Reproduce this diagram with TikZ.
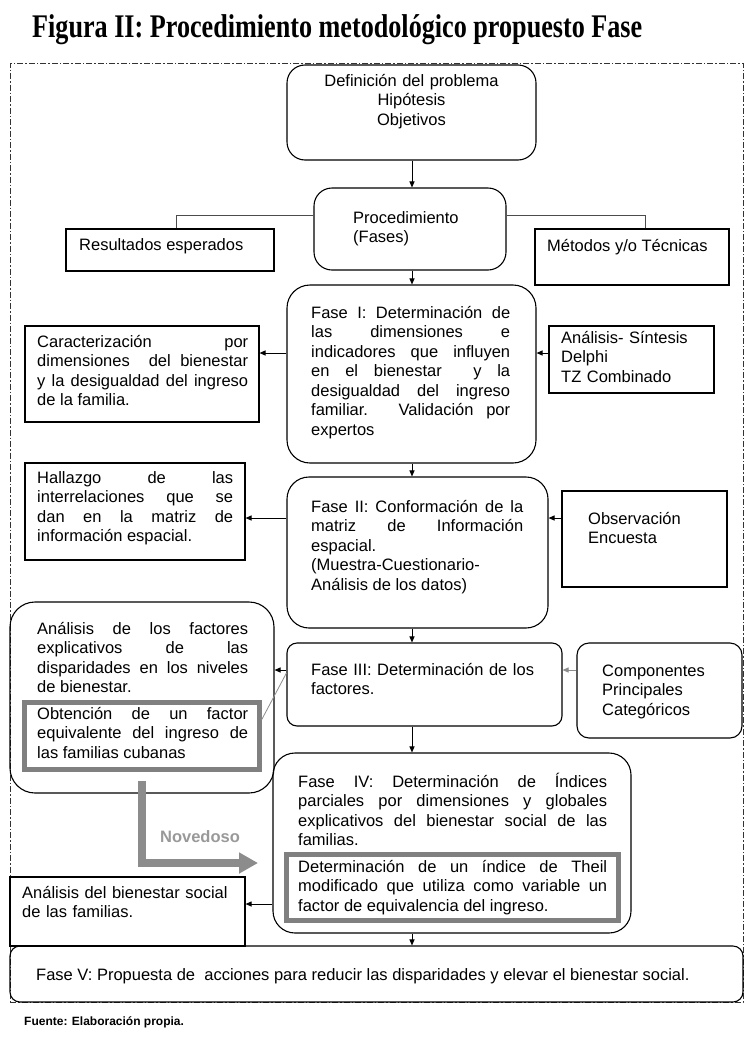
\documentclass[tikz,border=0pt]{standalone}
\usepackage{fontspec}
\setmainfont{Liberation Sans}
\newfontfamily\titlefont{Liberation Serif}
\usetikzlibrary{fit,arrows.meta}
\tolerance=10000
\hyphenpenalty=10000
\begin{document}
\begin{tikzpicture}[x=1pt,y=-1pt,
  box/.style={draw=black, line width=1.1pt, inner sep=0pt},
  rbox/.style={box, rounded corners=#1},
  gbox/.style={draw=black!50, line width=5pt, inner sep=0pt},
  txt/.style={inner sep=0pt, anchor=base west, font=\fontsize{16.5}{19.5}\selectfont},
  jtxt/.style={txt, text width=#1, align=justify},
  ltxt/.style={txt, text width=#1, align=left},
  arr/.style={draw=black, line width=1pt, -{Triangle[length=6pt,width=5pt]}},
  garr/.style={draw=black!45, line width=1pt, -{Triangle[length=6pt,width=5pt]}},
  conn/.style={draw=black!70, line width=1pt},
  novarrow/.style={draw=black!45, line width=8pt, -{Triangle[length=19pt,width=20pt]}},
  frame/.style={draw=black!80, line width=0.9pt, dash pattern=on 6pt off 2pt on 1.5pt off 2pt}
]
\useasboundingbox (0,0) rectangle (750,1039);
\fill[white] (0,0) rectangle (750,1039);

% title
\node[inner sep=0pt, anchor=base west] (title) at (32,37)
  {\resizebox{610pt}{\height}{\fontsize{33}{33}\selectfont\titlefont\bfseries Figura II: Procedimiento metodológico propuesto Fase}};

% outer frame
\node[frame, inner sep=0pt, fit={(10,63) (743,1002)}] (frm) {};

% helper coordinates
\coordinate (cx) at (412,0);
\coordinate (c215) at (0,215);
\coordinate (c353) at (0,353);
\coordinate (c518) at (0,518);
\coordinate (c670) at (0,670);
\coordinate (c673) at (0,673);
\coordinate (c720) at (0,720);
\coordinate (c904) at (0,904);

% boxes
\node[rbox=18pt, fit={(287,65) (536,160)}] (A) {};
\node[rbox=18pt, fit={(314,188) (506,270)}] (B) {};
\node[box, fit={(66,229) (274,271)}] (Res) {};
\node[box, fit={(535,229) (729,285)}] (Met) {};
\node[rbox=23pt, fit={(287,285) (536,463)}] (F1) {};
\node[box, fit={(25,326) (259,422)}] (Car) {};
\node[box, fit={(549,326) (714,393)}] (AS) {};
\node[rbox=22pt, fit={(287,477) (548,628)}] (F2) {};
\node[box, fit={(25,463) (245,560)}] (Hal) {};
\node[box, fit={(562,491) (727,587)}] (Obs) {};
\node[rbox=10pt, fit={(287,643) (562,726)}] (F3) {};
\node[rbox=12pt, fit={(577,643) (742,738)}] (Comp) {};
\node[rbox=25pt, fit={(10,602) (274,793)}] (AF) {};
\node[gbox, fit={(24,702) (259,769)}] (Obt) {};
\node[rbox=22pt, fit={(273,753) (631,933)}] (F4) {};
\node[gbox, fit={(286,854) (618,920)}] (Th) {};
\node[box, fit={(10,877) (245,946)}] (AB) {};
\node[rbox=10pt, fit={(10,946) (743,1002)}] (F5) {};

% texts
\node[txt, text width=240pt, align=center, anchor=base] (tA) at (411.5,86)
  {Definición del problema\\Hipótesis\\Objetivos};
\node[ltxt=150pt] (tB) at (353,223) {Procedimiento\\(Fases)};
\node[txt] (tRes) at (79,250) {Resultados esperados};
\node[txt] (tMet) at (547,251) {Métodos y/o Técnicas};
\node[jtxt=199pt] (tF1) at (311,318)
  {Fase I: Determinación de\linebreak las dimensiones e\linebreak indicadores que influyen\linebreak en el bienestar\ \ y la\linebreak desigualdad del ingreso\linebreak familiar. Validación por\linebreak expertos};
\node[jtxt=211pt] (tCar) at (37,347)
  {Caracterización por\linebreak dimensiones\ \ del bienestar\linebreak y la desigualdad del ingreso\linebreak de la familia.};
\node[ltxt=150pt] (tAS) at (561,343) {Análisis- Síntesis\\Delphi\\TZ Combinado};
\node[jtxt=212pt] (tF2) at (311,512)
  {Fase II: Conformación de la\linebreak matriz de Información\linebreak espacial.\\(Muestra-Cuestionario-\\Análisis de los datos)};
\node[jtxt=196pt] (tHal) at (37,483)
  {Hallazgo de las\linebreak interrelaciones que se\linebreak dan en la matriz de\linebreak información espacial.};
\node[ltxt=130pt] (tObs) at (588,524) {Observación\\Encuesta};
\node[ltxt=240pt] (tF3) at (311,675) {Fase III: Determinación de los\\factores.};
\node[ltxt=135pt] (tComp) at (602,676) {Componentes\\Principales\\Categóricos};
\node[jtxt=211pt] (tAF) at (37,634)
  {Análisis de los factores\linebreak explicativos de las\linebreak disparidades en los niveles\linebreak de bienestar.};
\node[jtxt=211pt] (tObt) at (37,719)
  {Obtención de un factor\linebreak equivalente del ingreso de\linebreak las familias cubanas};
\node[jtxt=309pt] (tF4) at (298,787)
  {Fase IV: Determinación de Índices\linebreak parciales por dimensiones y globales\linebreak explicativos del bienestar social de las\linebreak familias.};
\node[jtxt=309pt] (tTh) at (298,872)
  {Determinación de un índice de Theil\linebreak modificado que utiliza como variable un\linebreak factor de equivalencia del ingreso.};
\node[ltxt=220pt] (tAB) at (22,898) {Análisis del bienestar social\\de las familias.};
\node[txt] (tF5) at (36,980)
  {Fase V: Propuesta de\ \ acciones para reducir las disparidades y elevar el bienestar social.};
\node[inner sep=0pt, anchor=base, text=black!40, font=\fontsize{16.5}{19.5}\selectfont\bfseries] (tNov) at (200,842) {Novedoso};
\node[inner sep=0pt, anchor=base west, font=\fontsize{12}{14}\selectfont\bfseries] (src) at (24,1025) {Fuente: Elaboración propia.};

% vertical arrows
\draw[arr] (A.south -| cx) -- (B.north -| cx);
\draw[arr] (B.south -| cx) -- (F1.north -| cx);
\draw[arr] (F1.south -| cx) -- (F2.north -| cx);
\draw[arr] (F2.south -| cx) -- (F3.north -| cx);
\draw[arr] (F3.south -| cx) -- (F4.north -| cx);
\draw[arr] (F4.south -| cx) -- (F5.north -| cx);

% side connectors
\draw[conn] (B.west |- c215) -| ([xshift=6pt]Res.north);
\draw[conn] (B.east |- c215) -| ([xshift=13pt]Met.north);

\draw[arr] (F1.west |- c353) -- (Car.east |- c353);
\draw[arr] (AS.west |- c353) -- (F1.east |- c353);
\draw[arr] (F2.west |- c518) -- (Hal.east |- c518);
\draw[arr] (Obs.west |- c518) -- (F2.east |- c518);
\draw[arr] (F3.west |- c670) -- (AF.east |- c670);
\draw[garr] (Comp.west |- c670) -- (F3.east |- c670);
\draw[draw=black!45, line width=0.8pt] (F3.west |- c673) -- (Obt.east |- c720);
\draw[arr] (F4.west |- c904) -- (AB.east |- c904);

% novedoso arrow
\coordinate (nv1) at (142,781);
\coordinate (nv2) at (258,863);
\draw[novarrow] (nv1) |- (nv2);
\end{tikzpicture}
\end{document}
